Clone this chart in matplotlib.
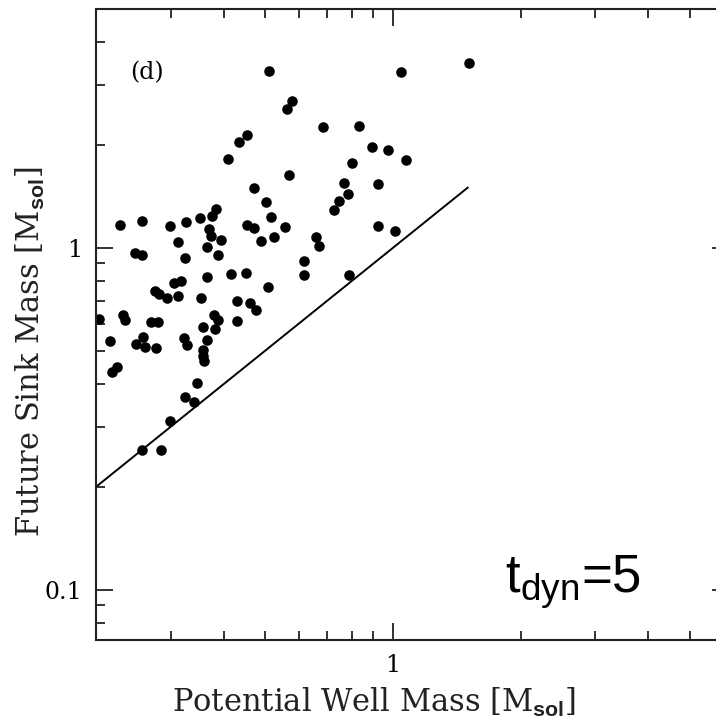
import numpy as np
import matplotlib
matplotlib.use("Agg")
import matplotlib.pyplot as plt
from matplotlib.ticker import FixedLocator, FixedFormatter, NullFormatter

plt.rcParams['mathtext.fontset'] = 'custom'
plt.rcParams['mathtext.rm'] = 'Liberation Sans'
plt.rcParams['mathtext.it'] = 'Liberation Sans:italic'
plt.rcParams['mathtext.bf'] = 'Liberation Sans:bold'

# potential well mass vs future sink mass
well_mass = [0.512, 1.046, 1.509, 0.579, 0.564, 0.434, 0.452, 0.409, 0.470, 0.503,
             0.515, 0.569, 0.257, 0.325, 0.352, 0.375, 0.384, 0.685, 0.834, 0.895,
             0.973, 1.071, 0.802, 0.766, 0.920, 0.785, 0.748, 0.727, 0.558, 0.922,
             1.010, 0.660, 0.668, 0.617, 0.616, 0.787, 0.227, 0.298, 0.454, 0.470,
             0.368, 0.372, 0.393, 0.490, 0.524, 0.311, 0.365, 0.247, 0.257, 0.387,
             0.324, 0.415, 0.450, 0.365, 0.305, 0.316, 0.509, 0.275, 0.281, 0.294,
             0.312, 0.354, 0.430, 0.460, 0.476, 0.203, 0.231, 0.234, 0.269, 0.279,
             0.379, 0.388, 0.382, 0.356, 0.430, 0.215, 0.248, 0.258, 0.261, 0.276,
             0.322, 0.328, 0.365, 0.357, 0.356, 0.359, 0.218, 0.224, 0.346, 0.324,
             0.340, 0.298, 0.256, 0.285]
sink_mass = [3.284, 3.262, 3.466, 2.684, 2.550, 2.036, 2.140, 1.820, 1.494, 1.366,
             1.229, 1.638, 1.202, 1.194, 1.224, 1.243, 1.300, 2.263, 2.274, 1.968,
             1.934, 1.808, 1.768, 1.552, 1.539, 1.441, 1.372, 1.294, 1.149, 1.160,
             1.118, 1.074, 1.013, 0.914, 0.832, 0.835, 1.164, 1.160, 1.170, 1.144,
             1.137, 1.086, 1.055, 1.045, 1.074, 1.038, 1.009, 0.967, 0.950, 0.954,
             0.932, 0.839, 0.843, 0.820, 0.788, 0.798, 0.767, 0.750, 0.734, 0.714,
             0.725, 0.714, 0.698, 0.689, 0.656, 0.620, 0.638, 0.613, 0.606, 0.606,
             0.638, 0.613, 0.580, 0.586, 0.610, 0.533, 0.524, 0.548, 0.512, 0.509,
             0.546, 0.518, 0.538, 0.501, 0.481, 0.468, 0.433, 0.448, 0.403, 0.366,
             0.355, 0.311, 0.257, 0.257]

# one-to-one line
line_x = [0.2, 1.5]
line_y = [0.2, 1.5]

xmin, xmax = 0.2, 6.2
fig = plt.figure(figsize=(7.16, 7.19), dpi=100)
# right spine sits just past the edge of the picture, like the cropped original
ax = fig.add_axes([96.2/716, 79/719, 424.5*np.log10(xmax/xmin)/716, 631/719])

ax.plot(well_mass, sink_mass, 'o', color='black', markersize=7.6, markeredgewidth=0)
ax.plot(line_x, line_y, '-', color='black', lw=1.4)

ax.set_xscale('log')
ax.set_yscale('log')
ax.set_xlim(xmin, xmax)
ax.set_ylim(0.0712, 5)

ax.xaxis.set_major_locator(FixedLocator([1]))
ax.xaxis.set_major_formatter(FixedFormatter(['1']))
ax.xaxis.set_minor_locator(FixedLocator([0.3, 0.4, 0.5, 0.6, 0.7, 0.8, 0.9, 2, 3, 4, 5, 6]))
ax.xaxis.set_minor_formatter(NullFormatter())
ax.yaxis.set_major_locator(FixedLocator([0.1, 1]))
ax.yaxis.set_major_formatter(FixedFormatter(['0.1', '1']))
ax.yaxis.set_minor_locator(FixedLocator([0.08, 0.09, 0.2, 0.3, 0.4, 0.5, 0.6, 0.7,
                                         0.8, 0.9, 2, 3, 4]))
ax.yaxis.set_minor_formatter(NullFormatter())

ax.tick_params(which='both', direction='in', top=True, right=True, color='#222222')
ax.tick_params(which='major', length=12.5, width=1.3, pad=10)
ax.tick_params(which='minor', length=6.5, width=1.3)
for lab in ax.get_xticklabels() + ax.get_yticklabels():
    lab.set_family('DejaVu Serif')
    lab.set_fontsize(17)
for sp in ax.spines.values():
    sp.set_linewidth(1.5)
    sp.set_color('#222222')

ax.set_xlabel('Potential Well Mass [M$_{\\mathbf{sol}}$]', family='DejaVu Serif',
              fontsize=22, color='#222222')
ax.xaxis.set_label_coords((371 - 96.2) / 627, -0.072)
ax.set_ylabel('Future Sink Mass [M$_{\\mathbf{sol}}$]', family='DejaVu Serif',
              fontsize=22, color='#222222')
ax.yaxis.set_label_coords(-0.078, (640 - 352) / 631)

ax.text(130/716, 1 - 73/719, '(d)', transform=fig.transFigure, family='DejaVu Serif',
        fontsize=17, va='center', ha='left')
ax.text(505/716, 1 - 582/719, 't$_{\\mathrm{dyn}}$=5', transform=fig.transFigure,
        family='Liberation Sans', fontsize=38, va='center', ha='left')

fig.savefig('out.png', dpi=100)
